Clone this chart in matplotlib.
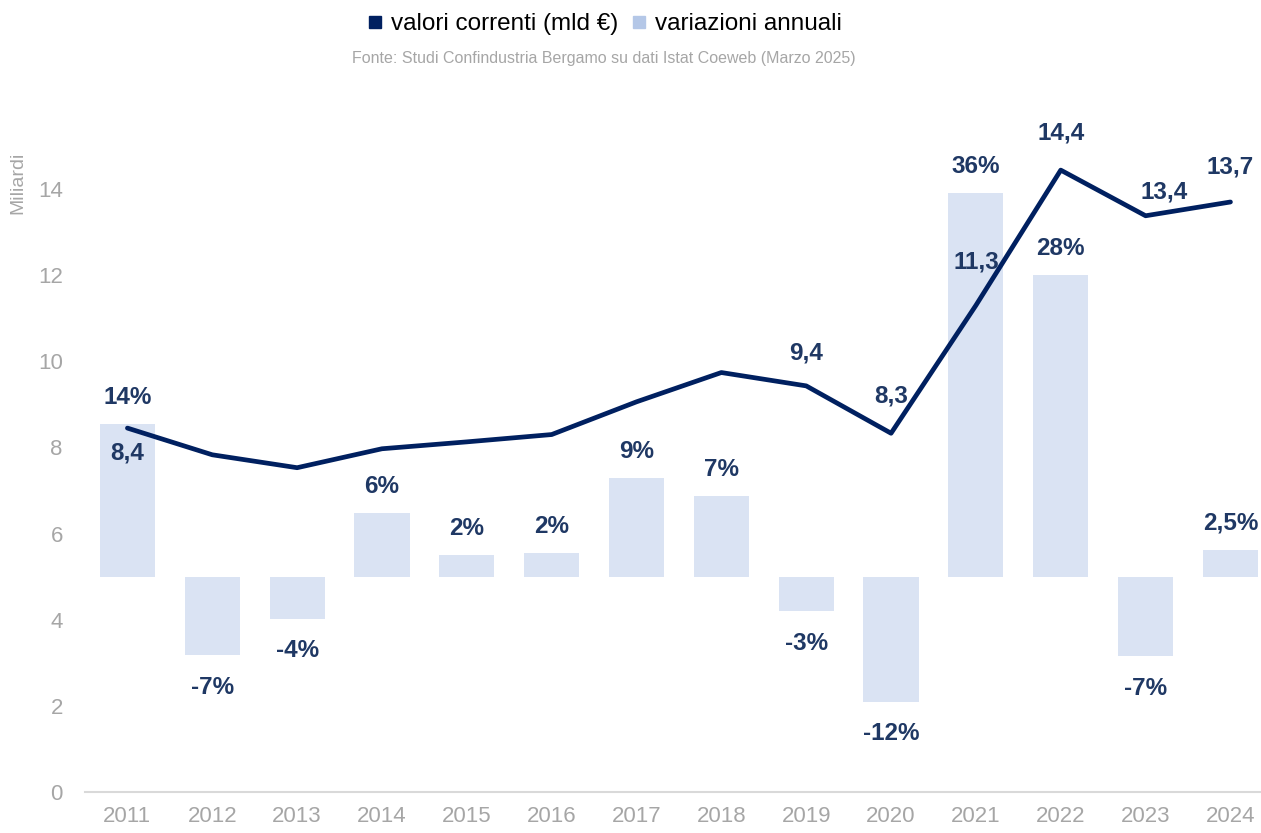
import matplotlib
matplotlib.use("Agg")
import matplotlib.pyplot as plt
from matplotlib.lines import Line2D

plt.rcParams['font.family'] = ['Liberation Sans Narrow', 'Liberation Sans', 'DejaVu Sans']

years = ['2011', '2012', '2013', '2014', '2015', '2016', '2017', '2018', '2019', '2020', '2021', '2022', '2023', '2024']
valori = [8.45, 7.83, 7.53, 7.97, 8.13, 8.30, 9.06, 9.74, 9.43, 8.33, 11.30, 14.44, 13.38, 13.70]
variazioni = [14.2, -7.3, -3.9, 5.9, 2.0, 2.2, 9.2, 7.5, -3.2, -11.6, 35.6, 28.0, -7.4, 2.5]
var_labels = ['14%', '-7%', '-4%', '6%', '2%', '2%', '9%', '7%', '-3%', '-12%', '36%', '28%', '-7%', '2,5%']
val_labels = {0: '8,4', 8: '9,4', 9: '8,3', 10: '11,3', 11: '14,4', 12: '13,4', 13: '13,7'}
y_ticks = [0, 2, 4, 6, 8, 10, 12, 14]

LINE_C = '#002060'
LABEL_C = '#1F3864'
BAR_C = '#DAE3F3'
LEG_BAR_C = '#B4C7E7'
GREY = '#A6A6A6'

fig = plt.figure(figsize=(12.61, 8.33), dpi=100)
ax = fig.add_axes([85 / 1261, 41 / 833, 1176 / 1261, (792 - 146) / 833])
ax2 = ax.twinx()

x = list(range(len(years)))

# bars on secondary axis (hidden)
ax2.bar(x, variazioni, width=0.65, color=BAR_C, zorder=1)
ax2.set_ylim(-20, 40)
ax2.axis('off')

ax.set_zorder(ax2.get_zorder() + 1)
ax.patch.set_visible(False)
ax.plot(x, valori, color=LINE_C, lw=3.4, solid_capstyle='round', solid_joinstyle='round', zorder=3)
ax.set_ylim(0, 15)
ax.set_xlim(-0.5, 13.36)
ax.set_yticks(y_ticks)
ax.set_yticklabels([str(t) for t in y_ticks])
ax.set_xticks(x)
ax.set_xticklabels(years)
ax.tick_params(axis='both', length=0, colors=GREY, labelsize=16)
ax.tick_params(axis='y', pad=16)
ax.tick_params(axis='x', pad=10)
for s in ['top', 'right', 'left']:
    ax.spines[s].set_visible(False)
ax.spines['bottom'].set_color('#D9D9D9')
ax.spines['bottom'].set_linewidth(1.5)

# bar labels
for i, (v, lab) in enumerate(zip(variazioni, var_labels)):
    off = 19 if v >= 0 else -23
    ax2.annotate(lab, (i, v), xytext=(0, off), textcoords='offset points',
                 ha='center', va='center', fontsize=17.5, fontweight='bold', color=LABEL_C, zorder=5)

# line labels
line_offsets = {0: (0, -18), 8: (0, 24), 9: (0, 27), 10: (0, 31), 11: (0, 27), 12: (13, 17), 13: (0, 25)}
for i, lab in val_labels.items():
    dx, dy = line_offsets[i]
    ax.annotate(lab, (i, valori[i]), xytext=(dx, dy), textcoords='offset points',
                ha='center', va='center', fontsize=17.5, fontweight='bold', color=LABEL_C, zorder=6)

fig.text(18 / 1261, 1 - 183 / 833, 'Miliardi', rotation=90, ha='center', va='center', fontsize=14, color=GREY)

handles = [Line2D([], [], marker='s', ls='none', color=LINE_C, markersize=9),
           Line2D([], [], marker='s', ls='none', color=LEG_BAR_C, markersize=9)]
fig.legend(handles, ['valori correnti (mld €)', 'variazioni annuali'], loc='center',
           bbox_to_anchor=(604 / 1261, 1 - 24 / 833), ncol=2, frameon=False, fontsize=17.5,
           handlelength=0.7, handletextpad=0.3, columnspacing=0.5)
fig.text(604 / 1261, 1 - 59 / 833, 'Fonte: Studi Confindustria Bergamo su dati Istat Coeweb (Marzo 2025)',
         ha='center', va='center', fontsize=11.5, color=GREY)

fig.savefig('out.png', dpi=100)
